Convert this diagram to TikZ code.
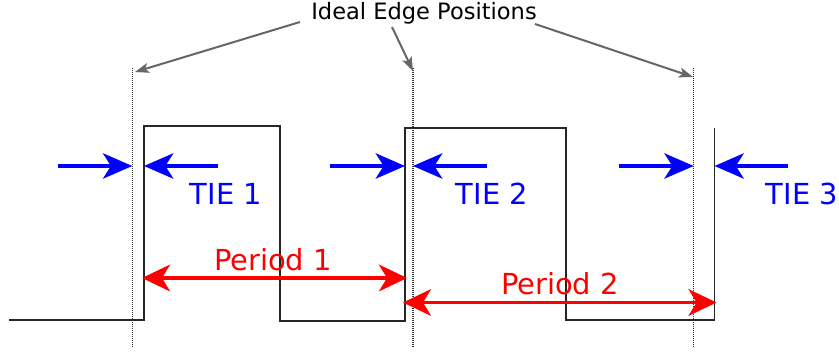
\documentclass[tikz,border=0pt]{standalone}
\usepackage{fontspec}
\setmainfont{DejaVu Sans}
\usetikzlibrary{arrows.meta}

\begin{document}
\begin{tikzpicture}[
  x=0.75pt, y=-0.75pt,
  signal/.style={line width=0.9pt, black!85, line join=miter},
  ideal/.style={line width=1pt, black!80, dash pattern=on 0.75pt off 0.75pt},
  pointer/.style={-{Stealth[length=10.5pt, width=7.5pt, inset=2.5pt]}, line width=1.5pt, draw=black!60},
  tie/.style={-{Stealth[length=22pt, width=19pt, inset=6pt]}, line width=2.5pt, blue},
  period/.style={{Stealth[length=21pt, width=20pt, inset=6pt]}-{Stealth[length=21pt, width=20pt, inset=6pt]}, line width=2.5pt, red},
  big/.style={font=\fontsize{21.7}{26}\selectfont, inner sep=0pt, anchor=base},
  small/.style={font=\fontsize{16.9}{20}\selectfont, inner sep=0pt, anchor=base}
]
\useasboundingbox (0,0) rectangle (839,352);

% ideal edges (top of the dotted guides) and real edges
\coordinate (i1) at (132.3,68);
\coordinate (i2) at (413,68);
\coordinate (i3) at (693.7,68);
\coordinate (r1) at (144,126);
\coordinate (r2) at (405,128);
\coordinate (r3) at (714.5,128);

% the clock signal
\draw[signal] (9,320) -- (144,320) -- (r1) -- (280,126) -- (280,321) -- (405,321)
  -- (r2) -- (566,128) -- (566,320) -- (714.5,320) -- (r3);

% dotted guides
\foreach \e in {i1,i2,i3}
  \draw[ideal] (\e) -- ([yshift=-210pt]\e);

% label and pointers
\node[small] (label) at (424,20) {Ideal Edge Positions};
\coordinate (s1) at (300,22);
\coordinate (s2) at (392,27);
\coordinate (s3) at (535,24);
\coordinate (n1) at (135,72);
\coordinate (n2) at (413,71);
\coordinate (n3) at (693,77);
\draw[pointer] (s1) -- (n1);
\draw[pointer] (s2) -- (n2);
\draw[pointer] (s3) -- (n3);

% time interval errors
\coordinate (a1) at (58,166);  \coordinate (b1) at (218,166);
\coordinate (a2) at (330,166); \coordinate (b2) at (487,166);
\coordinate (a3) at (619,166); \coordinate (b3) at (788,166);
\draw[tie] (a1) -- (a1 -| i1);
\draw[tie] (b1) -- (b1 -| r1);
\draw[tie] (a2) -- (a2 -| r2);
\draw[tie] (b2) -- (b2 -| i2);
\draw[tie] (a3) -- (a3 -| i3);
\draw[tie] (b3) -- (b3 -| r3);
\node[big, blue] (tie1) at (226,205) {TIE 1};
\node[big, blue] (tie2) at (492,205) {TIE 2};
\node[big, blue] (tie3) at (802,205) {TIE 3};

% periods
\coordinate (p1) at (0,278);
\coordinate (p2) at (0,302.5);
\draw[period] ([xshift=-1.5pt]r1 |- p1) -- ([xshift=1.5pt]r2 |- p1);
\draw[period] ([xshift=-1.5pt]r2 |- p2) -- ([xshift=1.5pt]r3 |- p2);
\node[big, red] (per1) at (273,271) {Period 1};
\node[big, red] (per2) at (560,295) {Period 2};

\end{tikzpicture}
\end{document}
